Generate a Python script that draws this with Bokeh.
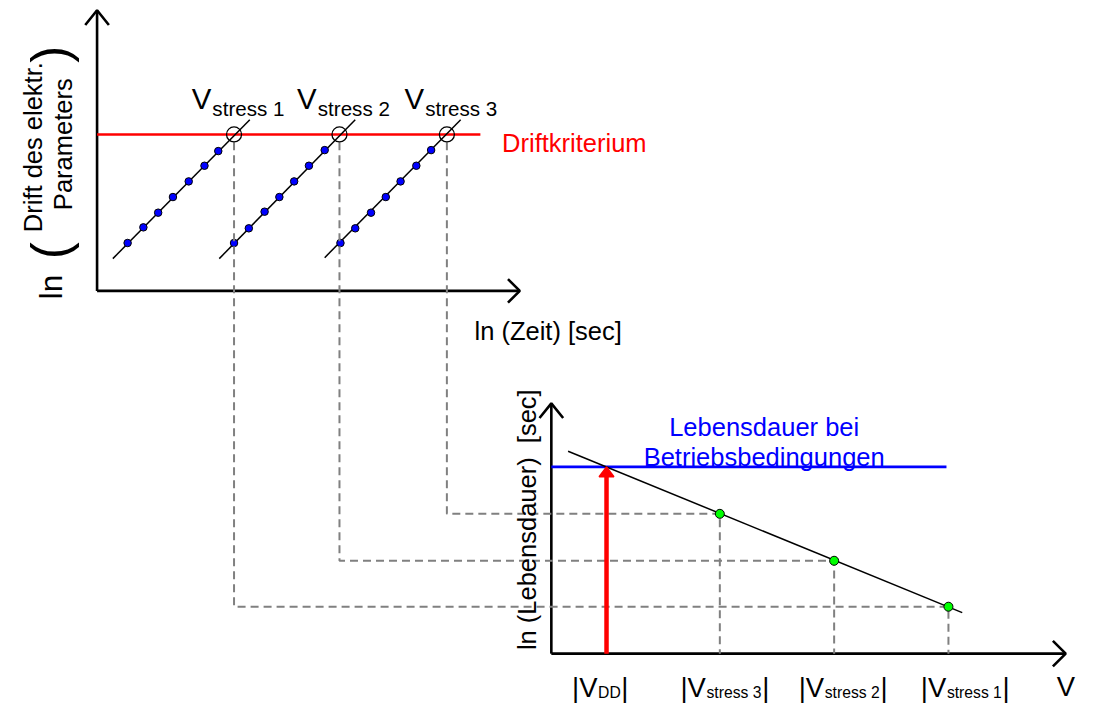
import math
from bokeh.plotting import figure
from bokeh.models import Range1d
from bokeh.core.properties import value
from bokeh.embed import file_html
from bokeh.resources import INLINE

FONT = "Liberation Sans"
FS = 0.98  # canvas is slightly smaller than the reference frame

# ---------------- data (diagram units) ----------------
# top diagram: ln(drift) vs ln(time) for three stress voltages
drift_criterion = 137
stress_names = ["stress 1", "stress 2", "stress 3"]
s1_time = [129, 145, 160, 175, 191, 207, 221]
s1_drift = [248, 232, 217, 201, 185, 169, 154]
s2_time = [237, 252, 268, 283, 298, 313, 329]
s2_drift = [248, 233, 216, 201, 185, 169, 153]
s3_time = [345, 360, 376, 391, 406, 422, 437]
s3_drift = [248, 233, 217, 201, 185, 169, 153]
fit_t0 = [114, 222, 329]
fit_d0 = [264, 264, 263]
fit_t1 = [253, 360, 467]
fit_d1 = [122, 122, 122]
fail_time = [237, 344, 453]           # crossing with drift criterion

# bottom diagram: ln(lifetime) vs |V|
life_v = [962, 846, 730]              # |Vstress1|, |Vstress2|, |Vstress3|
life_t = [620, 573, 525]
life_fit_v = [576, 976]
life_fit_t = [461, 626]
v_dd = 615
life_operating = 477
bottom_labels_sub = ["DD", "stress 3", "stress 2", "stress 1"]

# axes geometry
top_origin = (98, 297)
top_ytip = 10
top_xtip = 527
bot_origin = (559, 668)
bot_ytip = 412
bot_xtip = 1081
bot_xend_blue = 960

p = figure(width=1079, height=704, x_range=Range1d(0, 1095), y_range=Range1d(720, 0),
           output_backend="svg", toolbar_location=None, min_border=0,
           background_fill_color="white", border_fill_color="white")
p.outline_line_color = None
p.xaxis.visible = False
p.yaxis.visible = False
p.grid.visible = False

AX_W = 2.6
# ---- top axes ----
ox, oy = top_origin
p.line([ox, ox], [oy, top_ytip], line_color="black", line_width=AX_W)
p.line([ox, top_xtip], [oy, oy], line_color="black", line_width=AX_W)
p.line([ox - 12, ox, ox + 12], [top_ytip + 15, top_ytip, top_ytip + 15], line_color="black", line_width=AX_W)
p.line([top_xtip - 12, top_xtip, top_xtip - 12], [oy - 12, oy, oy + 12], line_color="black", line_width=AX_W)

# drift criterion
p.line([ox, 487], [drift_criterion, drift_criterion], line_color="#FF0000", line_width=2.6)

# fit lines top
p.segment(x0=fit_t0, y0=fit_d0, x1=fit_t1, y1=fit_d1, line_color="black", line_width=1.5)

# blue measurement points
for tt, dd in [(s1_time, s1_drift), (s2_time, s2_drift), (s3_time, s3_drift)]:
    p.scatter(tt, dd, size=7.5, fill_color="#0000FF", line_color="black", line_width=1)

# ---- bottom axes ----
bx, by = bot_origin
p.line([bx, bx], [by, bot_ytip], line_color="black", line_width=AX_W)
p.line([bx, bot_xtip], [by, by], line_color="black", line_width=AX_W)
p.line([bx - 12, bx, bx + 12], [bot_ytip + 15, bot_ytip, bot_ytip + 15], line_color="black", line_width=AX_W)
p.line([bot_xtip - 13, bot_xtip, bot_xtip - 13], [by - 13, by, by + 13], line_color="black", line_width=AX_W)

# operating lifetime
p.line([bx, bot_xend_blue], [life_operating, life_operating], line_color="#0000FF", line_width=2.6)

# dashed connectors
xs, ys = [], []
for ft, lv, lt in zip(fail_time, life_v, life_t):
    xs.append([ft, ft, lv, lv])
    ys.append([drift_criterion + 8, lt, lt, by])
p.multi_line(xs, ys, line_color="#808080", line_width=2, line_dash="8 5")

# fit line bottom
p.line(life_fit_v, life_fit_t, line_color="black", line_width=1.5)

# red arrow
p.line([v_dd, v_dd], [by, life_operating + 9], line_color="#FF0000", line_width=4.5)
p.patch([v_dd - 7.5, v_dd, v_dd + 7.5], [life_operating + 10, life_operating, life_operating + 10],
        fill_color="#FF0000", line_color="#FF0000", line_width=1.5)

# open circles
p.scatter(fail_time, [drift_criterion] * 3, size=15, fill_color=None, line_color="black", line_width=1.3)
# green lifetime points
p.scatter(life_v, life_t, size=9, fill_color="#00FF00", line_color="black", line_width=1)


def txt(x, y, s, size, color="black", align="left", baseline="alphabetic", angle=0.0):
    p.text(x=[x], y=[y], text=[s], text_font=value(FONT),
           text_font_size=value(f"{size * FS:.1f}px"),
           text_color=color, text_align=align, text_baseline=baseline, angle=angle)


# top stress labels
for ft, name in zip(fail_time, stress_names):
    vx = ft - 43
    txt(vx, 100, "V", 30)
    txt(vx + 21, 110, name, 21)

txt(509, 146, "Driftkriterium", 26, color="#FF0000")
txt(481, 338, "ln (Zeit) [sec]", 26)

# top y label (rotated)
R = math.pi / 2
txt(52, 293, "ln", 32, align="center", angle=R)
txt(51, 256, "(", 52, align="center", angle=R)
txt(33, 150, "Drift des elektr.", 26, align="center", angle=R)
txt(63, 147, "Parameters", 26, align="center", angle=R)
txt(51, 55, ")", 52, align="center", angle=R)

# bottom texts
txt(775, 436, "Lebensdauer bei", 26, color="#0000FF", align="center")
txt(775, 467, "Betriebsbedingungen", 26, color="#0000FF", align="center")
txt(534, 531, "ln (Lebensdauer)\u00a0 [sec]", 26, align="center", angle=R)
txt(1072, 702, "V", 28)

label_left = [580, 690, 810, 934]
W = {"|": 0.26, "V": 0.667, "s": 0.5, "t": 0.278, "r": 0.333, "e": 0.556, " ": 0.278,
     "1": 0.556, "2": 0.556, "3": 0.556, "D": 0.722}
for lx, sub in zip(label_left, bottom_labels_sub):
    txt(lx, 703, "|V", 28)
    sx = lx + (W["|"] + W["V"]) * 28 + 0.5
    txt(sx, 708, sub, 16)
    ex = sx + sum(W[c] for c in sub) * 16 + 0.5
    txt(ex, 703, "|", 28)

open("out.html", "w").write(file_html(p, INLINE))
